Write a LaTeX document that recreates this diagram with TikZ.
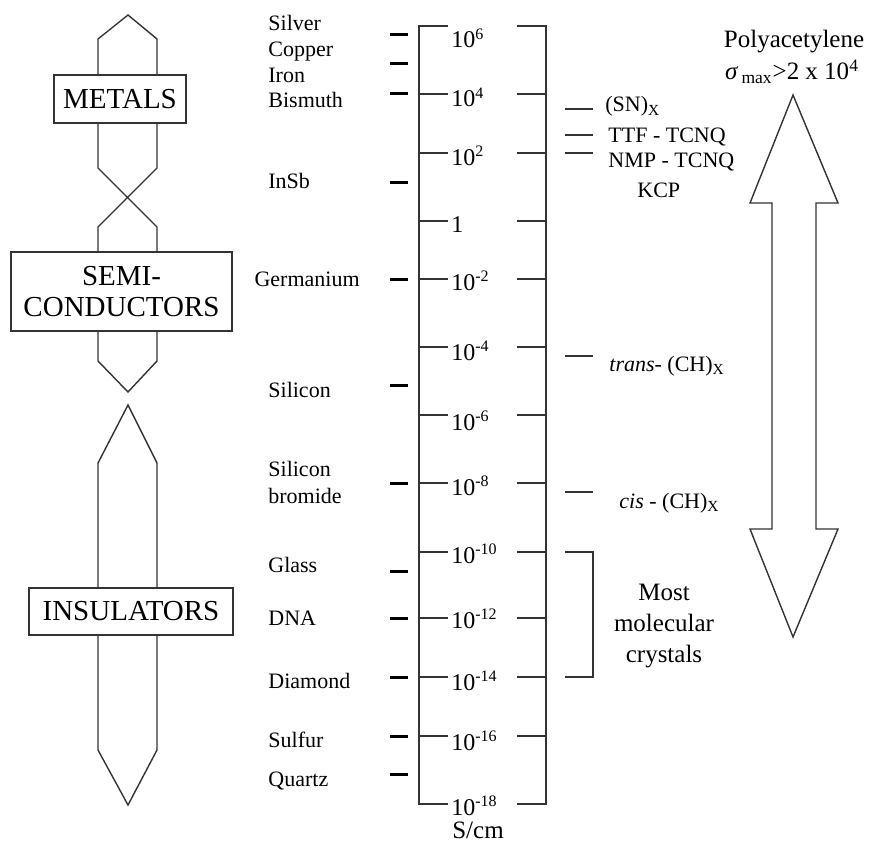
\documentclass[tikz,border=0pt]{standalone}
\usepackage{fontspec}
\setmainfont{Liberation Serif}
\usepackage{xcolor}
\usepackage{tikz}
\usetikzlibrary{
    positioning
}
\definecolor{linegray}{HTML}{333333}
\tikzset{
    frame line/.style={
        draw=linegray, line width=0.7pt
    },
    class box/.style={
        rectangle, draw=linegray, fill=white,
        line width=0.7pt, inner sep=0pt, align=center,
        font=\fontsize{14.5}{15.5}\selectfont
    },
    material/.style={
        anchor=base west, inner sep=0pt,
        font=\fontsize{11}{13}\selectfont
    },
    material tick/.style={
        draw=black, line width=1.5pt
    },
    decade/.style={
        anchor=base west, inner sep=0pt,
        font=\fontsize{12}{14}\selectfont
    },
    polymer/.style={
        anchor=base west, inner sep=0pt,
        font=\fontsize{11}{13}\selectfont
    },
    side note/.style={
        anchor=base, inner sep=0pt, align=center,
        font=\fontsize{12.5}{15.5}\selectfont
    },
}

\begin{document}
\begin{tikzpicture}[x=0.5pt, y=-0.5pt]

    \useasboundingbox (0,0) rectangle (870,845);

    % Class outlines
    \draw[frame line] (98,168) -- (98,39) -- (128,15) -- (157,39) -- (157,168)
        -- (98,227) -- (98,361) -- (128,392) -- (157,361) -- (157,227) -- cycle;
    \draw[frame line] (128,405) -- (98,463) -- (98,750) -- (128,805)
        -- (157,750) -- (157,463) -- cycle;

    % Class boxes
    \node[class box, minimum width=66pt, minimum height=24pt] (metals) at (120,99) {METALS};
    \node[class box, minimum width=110.5pt, minimum height=39.5pt] (semi) at (121.5,291.5) {SEMI-\\CONDUCTORS};
    \node[class box, minimum width=102pt, minimum height=23.5pt] (insul) at (131,611.5) {INSULATORS};

    % Scale bars
    \draw[frame line] (448,26) -- (419,26) -- (419,804) -- (448,804);
    \draw[frame line] (517,26) -- (546,26) -- (546,804) -- (517,804);
    \node[decade] (dec6) at (451,48) {10\textsuperscript{6}};
    \node[decade] (dec-18) at (451,815) {10\textsuperscript{-18}};
    \foreach \y/\b/\e in {94/107/4, 153/165/2, 221/232/0, 279/290/-2, 347/360/-4,
                          415/430/-6, 483/495/-8, 552/563/-10, 618/628/-12,
                          677/690/-14, 736/750/-16} {
        \draw[frame line] (419,\y) -- (448,\y);
        \draw[frame line] (517,\y) -- (546,\y);
        \node[decade] (dec\e) at (451,\b) {\ifnum\e=0 1\else 10\textsuperscript{\e}\fi};
    }
    \node[side note, anchor=base] (unit) at (478,838) {S/cm};

    % Materials
    \foreach \y in {35,64,94,182,279,385,483,571,618,677,736,774}
        \draw[material tick] (390,\y) -- (408,\y);
    \foreach \b/\t in {31/Silver, 57/Copper, 83/Iron, 108/Bismuth, 188/InSb,
                       397/Silicon, 476/Silicon, 503/bromide, 572/Glass,
                       625/DNA, 688/Diamond, 747/Sulfur, 786/Quartz}
        \node[material] (mat\b) at (268,\b) {\t};
    \node[material, anchor=base east] (germ) at (360,286) {Germanium};

    % Conducting polymers and salts
    \foreach \y in {109,135,153,356,492}
        \draw[frame line] (565,\y) -- (593,\y);
    \node[polymer] (sn) at (605,112) {(SN)\textsubscript{X}};
    \node[polymer] (ttf) at (608,142) {TTF - TCNQ};
    \node[polymer] (nmp) at (608,168) {NMP - TCNQ};
    \node[polymer] (kcp) at (637,197) {KCP};
    \node[polymer] (trans) at (609,371) {\textit{trans}- (CH)\textsubscript{X}};
    \node[polymer] (cis) at (619,508) {\textit{cis} - (CH)\textsubscript{X}};

    % Molecular crystals bracket
    \draw[frame line] (565,552) -- (593,552) -- (593,677) -- (565,677);
    \node[side note, anchor=north] (molec) at (664,584) {Most\\molecular\\crystals};

    % Polyacetylene range
    \draw[frame line, fill=white] (793,95) -- (838,203) -- (816,203) -- (816,529)
        -- (838,529) -- (793,637) -- (750,529) -- (772,529) -- (772,203)
        -- (750,203) -- cycle;
    \node[side note] (poly) at (794,48) {Polyacetylene};
    \node[side note] (sigma) at (792,80) {{\itshape σ}\,\textsubscript{max}>2 x 10\textsuperscript{4}};

\end{tikzpicture}
\end{document}
